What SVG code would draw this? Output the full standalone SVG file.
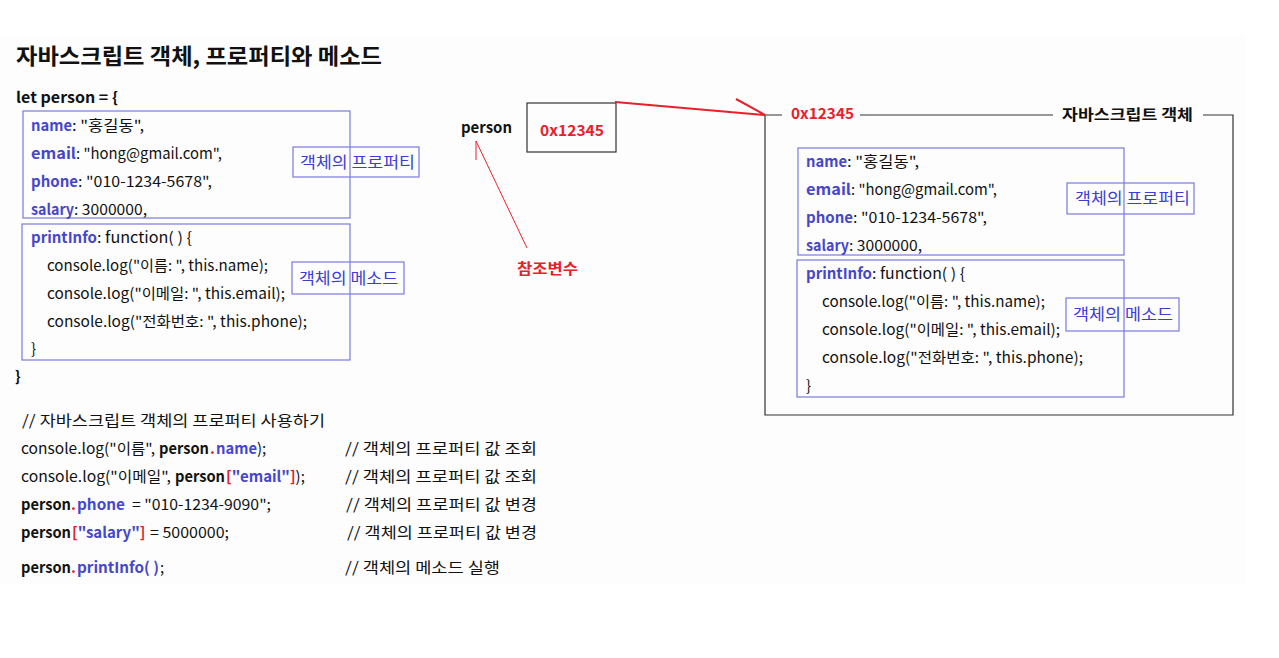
<svg xmlns="http://www.w3.org/2000/svg" width="1279" height="658" viewBox="0 0 1279 658">
<style>
text{font-family:"Noto Sans CJK KR","Noto Sans",sans-serif;font-size:15px;fill:#111;dominant-baseline:central}
.b{font-weight:bold}
.k{font-weight:bold;fill:#4646cc}
.r{fill:#e8202a;font-weight:bold}
.lb{fill:#3c3cd6;font-size:16px}
.box{fill:none;stroke:#7a7ae0;stroke-width:1.2}
.frame{fill:none;stroke:#333;stroke-width:1.2}
.red{stroke:#e8202a;fill:none}
</style>
<rect x="0" y="0" width="1279" height="658" fill="#fff"/>
<rect x="0" y="35" width="1245" height="550" fill="#fdfdfd"/>
<text x="16" y="54" class="b" style="font-size:22px" textLength="366" lengthAdjust="spacingAndGlyphs">자바스크립트 객체, 프로퍼티와 메소드</text>

<g id="code-left">
<text x="16" y="96" class="b" textLength="102" lengthAdjust="spacingAndGlyphs">let person = {</text>
<rect class="box" x="23" y="111" width="327" height="107"/>
<text x="31" y="124" class="k" textLength="41" lengthAdjust="spacingAndGlyphs">name</text>
<text x="72" y="124" textLength="72" lengthAdjust="spacingAndGlyphs">: "홍길동",</text>
<text x="31" y="152" class="k" textLength="45" lengthAdjust="spacingAndGlyphs">email</text>
<text x="76" y="152" textLength="146" lengthAdjust="spacingAndGlyphs">: "hong@gmail.com",</text>
<text x="31" y="180" class="k" textLength="47" lengthAdjust="spacingAndGlyphs">phone</text>
<text x="78" y="180" textLength="134" lengthAdjust="spacingAndGlyphs">: "010-1234-5678",</text>
<text x="31" y="208" class="k" textLength="43" lengthAdjust="spacingAndGlyphs">salary</text>
<text x="74" y="208" textLength="73" lengthAdjust="spacingAndGlyphs">: 3000000,</text>
<rect class="box" x="22" y="224" width="328" height="136"/>
<text x="31" y="236" class="k" textLength="66" lengthAdjust="spacingAndGlyphs">printInfo</text>
<text x="97" y="236" textLength="95" lengthAdjust="spacingAndGlyphs">: function( ) {</text>
<text x="47" y="264" textLength="221" lengthAdjust="spacingAndGlyphs">console.log("이름: ", this.name);</text>
<text x="47" y="292" textLength="238" lengthAdjust="spacingAndGlyphs">console.log("이메일: ", this.email);</text>
<text x="47" y="320" textLength="260" lengthAdjust="spacingAndGlyphs">console.log("전화번호: ", this.phone);</text>
<text x="31" y="347">}</text>
<text x="15" y="375" class="b">}</text>
</g>
<g id="label-left-prop">
<rect class="box" x="293" y="147" width="126" height="30" fill="#fff"/>
<text x="300" y="161" class="lb" textLength="115" lengthAdjust="spacingAndGlyphs">객체의 프로퍼티</text>
</g>
<g id="label-left-method">
<rect class="box" x="292" y="262" width="112" height="32" fill="#fff"/>
<text x="299" y="277" class="lb" textLength="99" lengthAdjust="spacingAndGlyphs">객체의 메소드</text>
</g>

<g id="person-var">
<text x="461" y="126" class="b" textLength="51" lengthAdjust="spacingAndGlyphs">person</text>
<rect class="frame" x="527" y="103" width="89" height="49" fill="#fff"/>
<text x="540" y="129" class="r" textLength="64" lengthAdjust="spacingAndGlyphs">0x12345</text>
</g>
<g id="ref-label">
<text x="517" y="267" class="r" textLength="61" lengthAdjust="spacingAndGlyphs">참조변수</text>
</g>

<g id="js-object">
<path class="frame" d="M765 115 V415 H1233 V115 H1203 M1053 115 H860 M782 115 H765"/>
<text x="791" y="112" class="r" textLength="63" lengthAdjust="spacingAndGlyphs">0x12345</text>
<text x="1062" y="113" class="b" textLength="131" lengthAdjust="spacingAndGlyphs">자바스크립트 객체</text>
<rect class="box" x="798" y="148" width="326" height="107"/>
<text x="806" y="160" class="k" textLength="41" lengthAdjust="spacingAndGlyphs">name</text>
<text x="847" y="160" textLength="72" lengthAdjust="spacingAndGlyphs">: "홍길동",</text>
<text x="806" y="188" class="k" textLength="45" lengthAdjust="spacingAndGlyphs">email</text>
<text x="851" y="188" textLength="146" lengthAdjust="spacingAndGlyphs">: "hong@gmail.com",</text>
<text x="806" y="216" class="k" textLength="47" lengthAdjust="spacingAndGlyphs">phone</text>
<text x="853" y="216" textLength="134" lengthAdjust="spacingAndGlyphs">: "010-1234-5678",</text>
<text x="806" y="244" class="k" textLength="43" lengthAdjust="spacingAndGlyphs">salary</text>
<text x="849" y="244" textLength="73" lengthAdjust="spacingAndGlyphs">: 3000000,</text>
<rect class="box" x="797" y="260" width="327" height="137"/>
<text x="806" y="272" class="k" textLength="66" lengthAdjust="spacingAndGlyphs">printInfo</text>
<text x="872" y="272" textLength="93" lengthAdjust="spacingAndGlyphs">: function( ) {</text>
<text x="822" y="300" textLength="223" lengthAdjust="spacingAndGlyphs">console.log("이름: ", this.name);</text>
<text x="822" y="328" textLength="238" lengthAdjust="spacingAndGlyphs">console.log("이메일: ", this.email);</text>
<text x="822" y="356" textLength="261" lengthAdjust="spacingAndGlyphs">console.log("전화번호: ", this.phone);</text>
<text x="806" y="384">}</text>
<rect class="box" x="1067" y="183" width="127" height="31" fill="#fff"/>
<text x="1075" y="197" class="lb" textLength="115" lengthAdjust="spacingAndGlyphs">객체의 프로퍼티</text>
<rect class="box" x="1066" y="298" width="113" height="33" fill="#fff"/>
<text x="1073" y="313" class="lb" textLength="100" lengthAdjust="spacingAndGlyphs">객체의 메소드</text>
</g>

<g id="connectors">
<path class="red" stroke-width="2" d="M615 102 L765 115 M736 99 L765 115"/>
<path class="red" stroke-width="1" d="M527 248 L476 141 L476 160"/>
</g>

<g id="usage">
<text x="22" y="419" textLength="303" lengthAdjust="spacingAndGlyphs">// 자바스크립트 객체의 프로퍼티 사용하기</text>

<text x="21" y="447" textLength="134" lengthAdjust="spacingAndGlyphs">console.log("이름",</text>
<text x="159" y="447" class="b" textLength="50" lengthAdjust="spacingAndGlyphs">person</text>
<text x="210" y="447" class="r">.</text>
<text x="216" y="447" class="k" textLength="41" lengthAdjust="spacingAndGlyphs">name</text>
<text x="257" y="447">);</text>
<text x="345" y="447" textLength="192" lengthAdjust="spacingAndGlyphs">// 객체의 프로퍼티 값 조회</text>

<text x="21" y="475" textLength="150" lengthAdjust="spacingAndGlyphs">console.log("이메일",</text>
<text x="175" y="475" class="b" textLength="50" lengthAdjust="spacingAndGlyphs">person</text>
<text x="226" y="475"><tspan class="r">[</tspan><tspan class="k">"email"</tspan><tspan class="r">]</tspan>);</text>
<text x="345" y="475" textLength="192" lengthAdjust="spacingAndGlyphs">// 객체의 프로퍼티 값 조회</text>

<text x="21" y="503" class="b" textLength="50" lengthAdjust="spacingAndGlyphs">person</text>
<text x="71" y="503" class="r">.</text>
<text x="77" y="503" class="k" textLength="48" lengthAdjust="spacingAndGlyphs">phone</text>
<text x="132" y="503" textLength="139" lengthAdjust="spacingAndGlyphs">= "010-1234-9090";</text>
<text x="346" y="503" textLength="191" lengthAdjust="spacingAndGlyphs">// 객체의 프로퍼티 값 변경</text>

<text x="21" y="531" class="b" textLength="50" lengthAdjust="spacingAndGlyphs">person</text>
<text x="72" y="531"><tspan class="r">[</tspan><tspan class="k">"salary"</tspan><tspan class="r">]</tspan></text>
<text x="150" y="531" textLength="79" lengthAdjust="spacingAndGlyphs">= 5000000;</text>
<text x="347" y="531" textLength="190" lengthAdjust="spacingAndGlyphs">// 객체의 프로퍼티 값 변경</text>

<text x="21" y="566" class="b" textLength="50" lengthAdjust="spacingAndGlyphs">person</text>
<text x="71" y="566" class="r">.</text>
<text x="77" y="566" class="k" textLength="82" lengthAdjust="spacingAndGlyphs">printInfo( )</text>
<text x="160" y="566">;</text>
<text x="345" y="566" textLength="155" lengthAdjust="spacingAndGlyphs">// 객체의 메소드 실행</text>
</g>
</svg>
